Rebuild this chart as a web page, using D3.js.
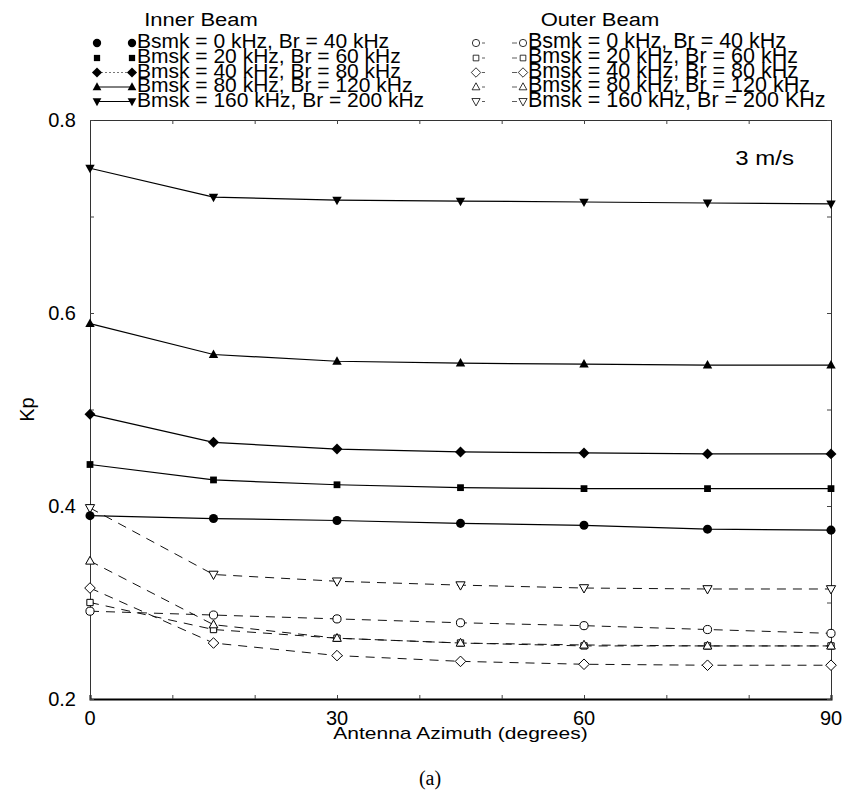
<!DOCTYPE html>
<html>
<head>
<meta charset="utf-8">
<script src="https://cdn.jsdelivr.net/npm/d3@7"></script>
<style>
  body { margin: 0; background: #fff; }
  text { font-family: "Liberation Sans", Arial, sans-serif; fill: #000; }
</style>
</head>
<body>
<script>
// azimuth angles (degrees)
const azimuth = [0, 15, 30, 45, 60, 75, 90]

const seriesLabels = [
    "Bsmk = 0 kHz, Br = 40 kHz",
    "Bmsk = 20 kHz, Br = 60 kHz",
    "Bmsk = 40 kHz, Br = 80 kHz",
    "Bmsk = 80 kHz, Br = 120 kHz",
    "Bmsk = 160 kHz, Br = 200 kHz"
]
const outerLabels = [
    "Bsmk = 0 kHz, Br = 40 kHz",
    "Bmsk = 20 kHz, Br = 60 kHz",
    "Bmsk = 40 kHz, Br = 80 kHz",
    "Bmsk = 80 kHz, Br = 120 kHz",
    "Bmsk = 160 kHz, Br = 200 KHz"
]

// Kp values, inner beam (solid, filled markers)
const inner0 = [0.390, 0.387, 0.385, 0.382, 0.380, 0.376, 0.375]
const inner20 = [0.443, 0.427, 0.422, 0.419, 0.418, 0.418, 0.418]
const inner40 = [0.495, 0.466, 0.459, 0.456, 0.455, 0.454, 0.454]
const inner80 = [0.589, 0.557, 0.550, 0.548, 0.547, 0.546, 0.546]
const inner160 = [0.750, 0.720, 0.717, 0.716, 0.715, 0.714, 0.713]

// Kp values, outer beam (dashed, open markers)
const outer0 = [0.291, 0.287, 0.283, 0.279, 0.276, 0.272, 0.268]
const outer20 = [0.300, 0.272, 0.263, 0.258, 0.255, 0.255, 0.255]
const outer40 = [0.315, 0.258, 0.245, 0.239, 0.236, 0.235, 0.235]
const outer80 = [0.343, 0.277, 0.263, 0.258, 0.256, 0.255, 0.255]
const outer160 = [0.398, 0.329, 0.322, 0.318, 0.315, 0.314, 0.314]

const xTickLabels = [0, 30, 60, 90]
const yTickLabels = [0.2, 0.4, 0.6, 0.8]

// custom marker shapes
const diamond = {
    draw(ctx, size) {
        const r = Math.sqrt(size / 2)
        ctx.moveTo(0, -r); ctx.lineTo(r, 0); ctx.lineTo(0, r); ctx.lineTo(-r, 0); ctx.closePath()
    }
}
const triUp = {
    draw(ctx, size) {
        const w = Math.sqrt(size * 2 / 0.9), h = w * 0.9
        ctx.moveTo(0, -h * 0.6); ctx.lineTo(w / 2, h * 0.4); ctx.lineTo(-w / 2, h * 0.4); ctx.closePath()
    }
}
const triDown = {
    draw(ctx, size) {
        const w = Math.sqrt(size * 2 / 0.9), h = w * 0.9
        ctx.moveTo(0, h * 0.6); ctx.lineTo(w / 2, -h * 0.4); ctx.lineTo(-w / 2, -h * 0.4); ctx.closePath()
    }
}

const shapes = [d3.symbolCircle, d3.symbolSquare, diamond, triUp, triDown]
const filledSizes = [64, 46, 60, 40, 40]
const openSizes = [52, 40, 56, 34, 38]

const innerSeries = [inner0, inner20, inner40, inner80, inner160]
const outerSeries = [outer0, outer20, outer40, outer80, outer160]

const width = 846
const height = 796
const margin = {left: 90, right: 15, top: 120, bottom: 97}

const svg = d3.select("body").append("svg")
    .attr("width", width)
    .attr("height", height)

const x = d3.scaleLinear().domain([0, 90]).range([margin.left, width - margin.right])
const y = d3.scaleLinear().domain([0.2, 0.8]).range([height - margin.bottom, margin.top])

const line = d3.line()
    .x((d, i) => x(azimuth[i]))
    .y(d => y(d))

// squashed text helper (the scanned figure's type is flattened vertically)
function flatText(g, tx, ty, sy, size, str, anchor) {
    return g.append("text")
        .attr("transform", `translate(${tx},${ty}) scale(1,${sy})`)
        .attr("text-anchor", anchor)
        .attr("font-size", size)
        .text(str)
}

// frame + ticks (inward, all four sides)
const axisG = svg.append("g")

axisG.append("g")
    .attr("transform", `translate(0,${y(0.2)})`)
    .call(d3.axisBottom(x).tickValues(d3.range(0, 91, 10)).tickSize(-4).tickFormat(""))
axisG.append("g")
    .attr("transform", `translate(0,${y(0.8)})`)
    .call(d3.axisTop(x).tickValues(d3.range(0, 91, 10)).tickSize(-4).tickFormat(""))
axisG.append("g")
    .attr("transform", `translate(${x(0)},0)`)
    .call(d3.axisLeft(y).tickValues(d3.range(0.2, 0.81, 0.1)).tickSize(-4).tickFormat(""))
axisG.append("g")
    .attr("transform", `translate(${x(90)},0)`)
    .call(d3.axisRight(y).tickValues(d3.range(0.2, 0.81, 0.1)).tickSize(-4).tickFormat(""))

axisG.selectAll(".domain").attr("stroke", "#333").attr("stroke-width", 1)
axisG.selectAll(".tick line").attr("stroke", "#444")
axisG.select("g").select(".domain").attr("stroke", "#000").attr("stroke-width", 2)

// tick labels
svg.append("g").selectAll("text")
    .data(xTickLabels)
    .join("text")
    .attr("x", d => x(d))
    .attr("y", y(0.2) + 26)
    .attr("text-anchor", "middle")
    .attr("font-size", 20)
    .text(d => d)

svg.append("g").selectAll("text")
    .data(yTickLabels)
    .join("text")
    .attr("x", x(0) - 14)
    .attr("y", d => y(d) + 7)
    .attr("text-anchor", "end")
    .attr("font-size", 20)
    .text(d => d.toFixed(1))

// axis titles
flatText(svg, (x(0) + x(90)) / 2, 739, 0.82, 21, "Antenna Azimuth (degrees)", "middle")

svg.append("text")
    .attr("transform", `translate(34,${(y(0.2) + y(0.8)) / 2}) rotate(-90)`)
    .attr("text-anchor", "middle")
    .attr("font-size", 20)
    .text("Kp")

svg.append("text")
    .attr("x", 430)
    .attr("y", 785)
    .attr("text-anchor", "middle")
    .attr("font-size", 20)
    .style("font-family", "'Liberation Serif', 'Times New Roman', serif")
    .text("(a)")

flatText(svg, 794, 165, 0.82, 24, "3 m/s", "end")

// data lines
const plot = svg.append("g")

outerSeries.forEach(vals => {
    plot.append("path")
        .datum(vals)
        .attr("fill", "none")
        .attr("stroke", "#111")
        .attr("stroke-width", 1)
        .attr("stroke-dasharray", "9,7")
        .attr("d", line)
})
innerSeries.forEach(vals => {
    plot.append("path")
        .datum(vals)
        .attr("fill", "none")
        .attr("stroke", "#000")
        .attr("stroke-width", 1.2)
        .attr("d", line)
})

// markers
outerSeries.forEach((vals, k) => {
    plot.append("g").selectAll("path")
        .data(vals)
        .join("path")
        .attr("transform", (d, i) => `translate(${x(azimuth[i])},${y(d)})`)
        .attr("d", d3.symbol().type(shapes[k]).size(openSizes[k]))
        .attr("fill", "#fff")
        .attr("stroke", "#000")
        .attr("stroke-width", 1)
})
innerSeries.forEach((vals, k) => {
    plot.append("g").selectAll("path")
        .data(vals)
        .join("path")
        .attr("transform", (d, i) => `translate(${x(azimuth[i])},${y(d)})`)
        .attr("d", d3.symbol().type(shapes[k]).size(filledSizes[k]))
        .attr("fill", "#000")
})

// legend
const legendRows = [43, 58, 72.5, 87, 101.5]
const innerLegendLines = [null, null, "2,2", "", ""]

const innerLeg = svg.append("g")
flatText(innerLeg, 201, 26, 0.8, 22, "Inner Beam", "middle")

seriesLabels.forEach((label, k) => {
    const yy = legendRows[k]
    if (innerLegendLines[k] !== null) {
        innerLeg.append("line")
            .attr("x1", 97).attr("x2", 132)
            .attr("y1", yy).attr("y2", yy)
            .attr("stroke", k === 2 ? "#777" : "#000")
            .attr("stroke-width", 1)
            .attr("stroke-dasharray", innerLegendLines[k])
    }
    innerLeg.selectAll(null)
        .data([97, 132])
        .join("path")
        .attr("transform", d => `translate(${d},${yy})`)
        .attr("d", d3.symbol().type(shapes[k]).size(filledSizes[k] * 0.85))
        .attr("fill", "#000")
    innerLeg.append("text")
        .attr("x", 137).attr("y", yy + 5)
        .attr("font-size", 21)
        .text(label)
})

const outerLeg = svg.append("g")
flatText(outerLeg, 600, 26, 0.8, 22, "Outer Beam", "middle")

outerLabels.forEach((label, k) => {
    const yy = legendRows[k]
    outerLeg.append("line")
        .attr("x1", 476).attr("x2", 523)
        .attr("y1", yy).attr("y2", yy)
        .attr("stroke", "#333")
        .attr("stroke-width", 0.8)
        .attr("stroke-dasharray", "0,6,3,27,5,100")
    outerLeg.selectAll(null)
        .data([476, 523])
        .join("path")
        .attr("transform", d => `translate(${d},${yy})`)
        .attr("d", d3.symbol().type(shapes[k]).size(openSizes[k] * 0.8))
        .attr("fill", "#fff")
        .attr("stroke", "#000")
        .attr("stroke-width", 0.8)
    outerLeg.append("text")
        .attr("x", 528).attr("y", yy + 5)
        .attr("font-size", 21.5)
        .text(label)
})
</script>
</body>
</html>
